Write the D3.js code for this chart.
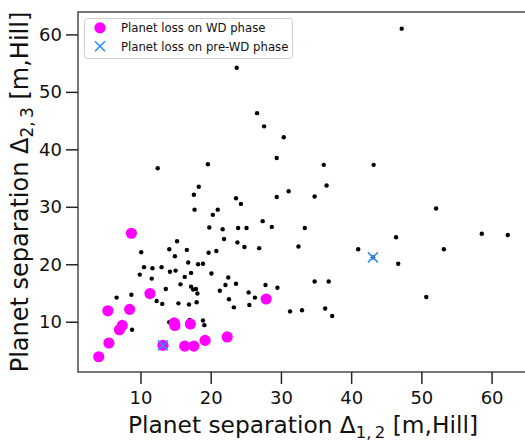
<!DOCTYPE html>
<html>
<head>
<meta charset="utf-8">
<script src="https://cdn.jsdelivr.net/npm/d3@7"></script>
<style>
  html, body { margin: 0; padding: 0; background: #fff; }
  svg { display: block; font-family: "DejaVu Sans", sans-serif; }
</style>
</head>
<body>
<svg id="chart" width="525" height="441"></svg>
<script>
// All simulated systems: separations Δ12 and Δ23 in mutual Hill radii
const allD12 = [47.2, 23.7, 26.6, 27.6, 30.4, 29.4, 12.45, 19.6, 36.1, 43.2,
  18.3, 17.6, 36.5, 31.1, 29.4, 23.6, 34.8, 24.3, 52.1, 17.7,
  21.0, 20.3, 27.4, 28.7, 19.8, 21.7, 23.9, 25.1, 33.4, 58.6,
  62.3, 46.4, 21.9, 15.2, 23.8, 32.5, 24.8, 26.9, 14.1, 16.6,
  41.0, 53.2, 20.8, 10.1, 19.7, 14.9, 43.1, 16.8, 18.2, 18.9,
  46.7, 10.5, 11.7, 13.0, 14.2, 15.0, 17.2, 20.1, 9.9, 16.3,
  11.6, 22.5, 34.8, 36.8, 15.7, 17.2, 22.1, 23.6, 27.8, 29.5,
  13.6, 17.5, 17.9, 21.3, 18.1, 25.4, 26.3, 22.6, 6.6, 8.7,
  50.7, 12.3, 13.1, 15.4, 16.9, 18.0, 23.3, 25.5, 31.3, 33.0,
  36.3, 37.3, 18.9, 14.1, 17.0, 19.1, 8.8];
const allD23 = [61.0, 54.2, 46.3, 44.0, 42.1, 38.5, 36.7, 37.4, 37.3, 37.3,
  33.5, 32.1, 33.7, 32.7, 31.7, 31.5, 31.8, 30.5, 29.7, 29.5,
  29.5, 28.6, 27.5, 26.5, 26.4, 26.1, 26.3, 26.3, 26.3, 25.3,
  25.1, 24.7, 24.4, 24.0, 23.8, 23.1, 23.0, 22.8, 22.6, 22.5,
  22.6, 22.6, 22.3, 22.1, 22.0, 21.4, 21.2, 20.3, 20.0, 20.1,
  20.1, 19.5, 19.3, 19.5, 18.7, 18.9, 18.5, 18.4, 18.2, 17.8,
  17.5, 17.7, 17.0, 17.0, 16.5, 16.1, 16.4, 16.6, 16.4, 15.9,
  15.7, 15.6, 15.7, 15.4, 14.9, 15.1, 14.2, 13.9, 14.2, 14.7,
  14.3, 13.6, 13.1, 13.2, 13.0, 13.4, 12.5, 12.9, 11.8, 12.0,
  12.3, 11.0, 10.2, 9.9, 10.3, 9.4, 8.6];

// Systems that lost a planet during the white-dwarf phase
const wdD12 = [4.05, 5.5, 5.35, 7.0, 7.4, 8.45, 8.7, 11.35, 13.2, 14.8,
  14.9, 17.1, 16.3, 17.6, 19.2, 22.35, 27.9];
const wdD23 = [3.9, 6.3, 11.9, 8.6, 9.35, 12.15, 25.4, 14.9, 5.9, 9.8,
  9.35, 9.6, 5.75, 5.75, 6.75, 7.35, 13.95];

// Systems that lost a planet before the white-dwarf phase
const preD12 = [13.2, 43.1];
const preD23 = [5.9, 21.2];

const xTicks = [10, 20, 30, 40, 50, 60];
const yTicks = [10, 20, 30, 40, 50, 60];
const legendLabels = ["Planet loss on WD phase", "Planet loss on pre-WD phase"];

const svg = d3.select("#chart");
const m = { left: 78, top: 12, bottom: 372, right: 526 };

const x = d3.scaleLinear().domain([1.1, 64.9]).range([m.left, m.right]);
const y = d3.scaleLinear().domain([1.25, 63.9]).range([m.bottom, m.top]);

const magenta = "#ff00ff";
const blue = "#2b8fff";
const ink = "#111111";
const crossPath = "M-5,-5L5,5M-5,5L5,-5";

// spines
svg.append("rect")
  .attr("x", m.left).attr("y", m.top)
  .attr("width", m.right - m.left).attr("height", m.bottom - m.top)
  .attr("fill", "none").attr("stroke", "#262626").attr("stroke-width", 1.25);

// axes
const xAxis = svg.append("g")
  .attr("transform", `translate(0,${m.bottom})`)
  .call(d3.axisBottom(x).tickValues(xTicks).tickSize(12).tickPadding(7.5).tickSizeOuter(0));
const yAxis = svg.append("g")
  .attr("transform", `translate(${m.left},0)`)
  .call(d3.axisLeft(y).tickValues(yTicks).tickSize(12).tickPadding(4).tickSizeOuter(0));

[xAxis, yAxis].forEach(g => {
  g.select(".domain").remove();
  g.selectAll(".tick line").attr("stroke", "#262626").attr("stroke-width", 1.5);
  g.selectAll(".tick text")
    .attr("fill", ink)
    .style("font-family", "'DejaVu Sans', sans-serif")
    .style("font-size", "18px");
});

// axis titles
const xt = svg.append("text")
  .attr("x", (m.left + m.right) / 2 + 1).attr("y", 432.5)
  .attr("text-anchor", "middle").attr("fill", ink)
  .style("font-size", "23.3px");
xt.append("tspan").text("Planet separation \u0394");
xt.append("tspan").attr("dy", 5).style("font-size", "16.5px").text("1,\u20092");
xt.append("tspan").attr("dy", -5).text(" [m,Hill]");

const yt = svg.append("text")
  .attr("transform", `translate(27.5,${(m.top + m.bottom) / 2}) rotate(-90)`)
  .attr("text-anchor", "middle").attr("fill", ink)
  .style("font-size", "24px");
yt.append("tspan").text("Planet separation \u0394");
yt.append("tspan").attr("dy", 5).style("font-size", "17px").text("2,\u20093");
yt.append("tspan").attr("dy", -5).text(" [m,Hill]");

// points
const plot = svg.append("g");
plot.selectAll("circle.all")
  .data(d3.zip(allD12, allD23))
  .join("circle").attr("class", "all")
  .attr("cx", d => x(d[0])).attr("cy", d => y(d[1]))
  .attr("r", 2.2).attr("fill", "#000");

plot.selectAll("circle.wd")
  .data(d3.zip(wdD12, wdD23))
  .join("circle").attr("class", "wd")
  .attr("cx", d => x(d[0])).attr("cy", d => y(d[1]))
  .attr("r", 5.6).attr("fill", magenta);

plot.selectAll("path.pre")
  .data(d3.zip(preD12, preD23))
  .join("path").attr("class", "pre")
  .attr("transform", d => `translate(${x(d[0])},${y(d[1])})`)
  .attr("d", crossPath)
  .attr("stroke", blue).attr("stroke-width", 1.6).attr("fill", "none");

// legend
const lg = svg.append("g");
lg.append("rect")
  .attr("x", 84.5).attr("y", 18.5).attr("width", 208).attr("height", 40)
  .attr("rx", 3).attr("fill", "#fff").attr("fill-opacity", 0.8)
  .attr("stroke", "#cccccc").attr("stroke-width", 1);
lg.append("circle").attr("cx", 100).attr("cy", 27.8).attr("r", 5.6).attr("fill", magenta);
lg.append("path").attr("transform", "translate(100,46.3)")
  .attr("d", crossPath)
  .attr("stroke", blue).attr("stroke-width", 1.6).attr("fill", "none");
lg.selectAll("text")
  .data(legendLabels)
  .join("text")
  .attr("x", 121).attr("y", (d, i) => 32.3 + i * 18.4)
  .attr("fill", ink)
  .style("font-size", "11.7px")
  .text(d => d);
</script>
</body>
</html>
